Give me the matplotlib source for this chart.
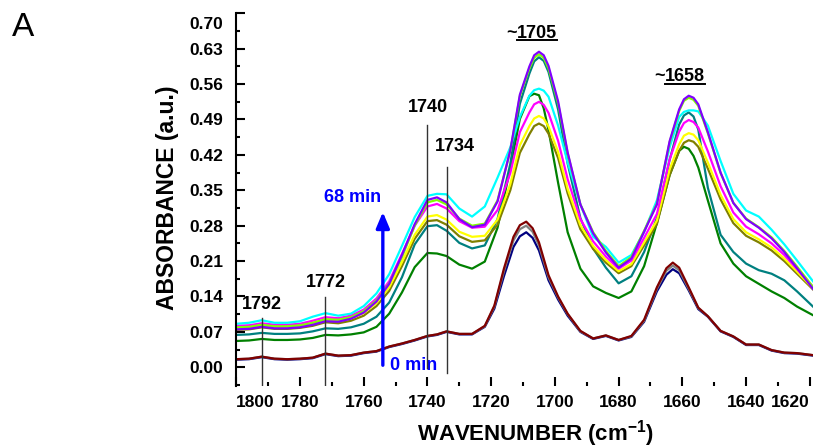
"""
FTIR 카르보닐 영역 흡광도 변화 (0 → 68 min)
"""

import matplotlib
matplotlib.use("Agg")
import matplotlib.pyplot as plt
from matplotlib.lines import Line2D
from matplotlib.ticker import FixedLocator, FuncFormatter

# ── 데이터 ─────────────────────────────────────────────────────────────
# 반응 진행 스펙트럼 (상단 그룹) 공통 파수
wn_hi = [1800, 1796, 1792, 1788, 1784, 1780, 1776, 1772, 1768, 1764, 1760, 1756,
         1752, 1748, 1744, 1740, 1737, 1734, 1730, 1726,
         1722, 1718, 1714, 1711, 1708, 1706.5, 1705, 1703.5, 1702, 1699, 1696, 1692, 1688, 1684, 1680,
         1676, 1672, 1668, 1664, 1661, 1659.5, 1658, 1656.5, 1655, 1652, 1648, 1644, 1640, 1636,
         1632, 1628, 1624, 1619]

abs_green = [0.052, 0.053, 0.056, 0.054, 0.054, 0.055, 0.058, 0.064, 0.063, 0.065, 0.069, 0.080,
             0.106, 0.148, 0.198, 0.226, 0.225, 0.220, 0.203, 0.195,
             0.209, 0.276, 0.394, 0.491, 0.536, 0.541, 0.538, 0.512, 0.469, 0.365, 0.267, 0.195, 0.160, 0.147, 0.137,
             0.150, 0.200, 0.285, 0.380, 0.428, 0.436, 0.432, 0.418, 0.395, 0.330, 0.245, 0.205, 0.180, 0.165,
             0.150, 0.137, 0.120, 0.103]
abs_teal = [0.064, 0.065, 0.068, 0.066, 0.066, 0.067, 0.071, 0.077, 0.076, 0.079, 0.086, 0.100,
            0.128, 0.178, 0.243, 0.279, 0.281, 0.270, 0.246, 0.235,
            0.241, 0.293, 0.402, 0.521, 0.581, 0.605, 0.613, 0.606, 0.584, 0.510, 0.403, 0.295, 0.235, 0.197, 0.166,
            0.180, 0.228, 0.295, 0.410, 0.480, 0.498, 0.504, 0.496, 0.470, 0.355, 0.262, 0.228, 0.205, 0.192,
            0.185, 0.172, 0.150, 0.120]
abs_olive = [0.074, 0.075, 0.079, 0.076, 0.076, 0.078, 0.082, 0.089, 0.087, 0.092, 0.102, 0.121,
             0.151, 0.200, 0.254, 0.289, 0.291, 0.282, 0.259, 0.248,
             0.251, 0.282, 0.350, 0.424, 0.461, 0.477, 0.482, 0.477, 0.462, 0.414, 0.344, 0.273, 0.234, 0.207, 0.186,
             0.200, 0.241, 0.283, 0.380, 0.428, 0.444, 0.449, 0.446, 0.436, 0.393, 0.332, 0.285, 0.260, 0.247,
             0.231, 0.210, 0.185, 0.154]
abs_yellow = [0.078, 0.079, 0.083, 0.080, 0.080, 0.082, 0.087, 0.094, 0.092, 0.097, 0.107, 0.127,
              0.158, 0.208, 0.262, 0.298, 0.301, 0.292, 0.268, 0.258,
              0.260, 0.292, 0.362, 0.439, 0.477, 0.492, 0.497, 0.492, 0.476, 0.426, 0.353, 0.281, 0.240, 0.212, 0.190,
              0.204, 0.247, 0.290, 0.391, 0.441, 0.458, 0.463, 0.460, 0.449, 0.405, 0.341, 0.293, 0.267, 0.253,
              0.237, 0.215, 0.189, 0.156]
abs_magenta = [0.082, 0.083, 0.087, 0.084, 0.084, 0.086, 0.092, 0.099, 0.097, 0.102, 0.114, 0.136,
               0.170, 0.224, 0.280, 0.318, 0.323, 0.314, 0.289, 0.276,
               0.278, 0.311, 0.384, 0.465, 0.504, 0.520, 0.525, 0.519, 0.503, 0.448, 0.372, 0.293, 0.249, 0.219, 0.195,
               0.211, 0.256, 0.303, 0.411, 0.466, 0.483, 0.489, 0.485, 0.474, 0.427, 0.358, 0.306, 0.278, 0.263,
               0.245, 0.222, 0.194, 0.159]
abs_cyan = [0.086, 0.088, 0.093, 0.088, 0.088, 0.091, 0.100, 0.107, 0.102, 0.106, 0.121, 0.146,
            0.184, 0.240, 0.297, 0.339, 0.343, 0.342, 0.314, 0.298,
            0.318, 0.375, 0.435, 0.495, 0.537, 0.548, 0.551, 0.547, 0.535, 0.478, 0.405, 0.322, 0.258, 0.238, 0.207,
            0.222, 0.268, 0.330, 0.435, 0.495, 0.505, 0.508, 0.508, 0.506, 0.478, 0.408, 0.343, 0.310, 0.298,
            0.272, 0.243, 0.211, 0.170]
abs_lime = [0.079, 0.080, 0.084, 0.081, 0.081, 0.083, 0.088, 0.095, 0.094, 0.099, 0.111, 0.132,
            0.166, 0.218, 0.280, 0.326, 0.331, 0.322, 0.294, 0.280,
            0.284, 0.330, 0.428, 0.536, 0.591, 0.612, 0.619, 0.612, 0.591, 0.522, 0.423, 0.322, 0.267, 0.230, 0.200,
            0.218, 0.270, 0.323, 0.445, 0.507, 0.527, 0.533, 0.529, 0.517, 0.463, 0.384, 0.325, 0.294, 0.277,
            0.257, 0.230, 0.199, 0.159]
abs_purple = [0.075, 0.076, 0.080, 0.077, 0.077, 0.079, 0.084, 0.091, 0.090, 0.096, 0.108, 0.130,
              0.165, 0.222, 0.283, 0.331, 0.336, 0.326, 0.293, 0.277,
              0.282, 0.328, 0.429, 0.539, 0.595, 0.617, 0.624, 0.617, 0.596, 0.526, 0.425, 0.322, 0.265, 0.227, 0.197,
              0.215, 0.268, 0.322, 0.447, 0.510, 0.530, 0.537, 0.533, 0.520, 0.465, 0.385, 0.325, 0.293, 0.276,
              0.255, 0.228, 0.196, 0.155]

# 초기 스펙트럼 (하단 그룹) 파수
wn_lo = [1800, 1796, 1792, 1788, 1784, 1780, 1776, 1772, 1768, 1764, 1760, 1756,
         1752, 1748, 1744, 1740, 1737, 1734, 1730, 1726,
         1722, 1719, 1716, 1713, 1711, 1709, 1707, 1705, 1702, 1699, 1696,
         1692, 1688, 1684, 1680, 1676, 1672, 1668,
         1665, 1663, 1661, 1658, 1655, 1652,
         1648, 1644, 1640, 1636, 1632, 1628, 1624, 1619]

abs_navy = [0.015, 0.016, 0.020, 0.016, 0.015, 0.016, 0.018, 0.026, 0.022, 0.023, 0.028, 0.031,
            0.040, 0.046, 0.053, 0.061, 0.064, 0.070, 0.065, 0.065,
            0.080, 0.116, 0.180, 0.238, 0.259, 0.267, 0.256, 0.231, 0.172, 0.134, 0.102,
            0.070, 0.056, 0.062, 0.053, 0.060, 0.090, 0.150,
            0.183, 0.194, 0.186, 0.152, 0.115, 0.100,
            0.071, 0.060, 0.044, 0.044, 0.033, 0.028, 0.027, 0.023]
abs_gray = [0.016, 0.017, 0.021, 0.017, 0.016, 0.017, 0.019, 0.027, 0.023, 0.024, 0.029, 0.032,
            0.041, 0.047, 0.054, 0.062, 0.065, 0.071, 0.066, 0.066,
            0.081, 0.120, 0.190, 0.251, 0.273, 0.280, 0.268, 0.241, 0.178, 0.138, 0.105,
            0.071, 0.057, 0.063, 0.054, 0.061, 0.092, 0.155,
            0.191, 0.201, 0.192, 0.155, 0.117, 0.101,
            0.072, 0.061, 0.045, 0.045, 0.034, 0.029, 0.028, 0.024]
abs_maroon = [0.016, 0.017, 0.021, 0.017, 0.016, 0.017, 0.019, 0.027, 0.023, 0.024, 0.029, 0.032,
              0.041, 0.047, 0.054, 0.062, 0.065, 0.071, 0.066, 0.066,
              0.082, 0.122, 0.195, 0.258, 0.281, 0.288, 0.275, 0.247, 0.182, 0.140, 0.106,
              0.072, 0.057, 0.063, 0.054, 0.062, 0.094, 0.158,
              0.196, 0.207, 0.197, 0.158, 0.118, 0.101,
              0.072, 0.061, 0.045, 0.045, 0.034, 0.029, 0.028, 0.024]

# 표시할 밴드 위치
marker_bands = [1792, 1772, 1740, 1734]
x_ticks = [1800, 1780, 1760, 1740, 1720, 1700, 1680, 1660, 1640, 1620]
y_ticks = [round(0.07 * i, 2) for i in range(11)]


def main():
    plt.rcParams["font.family"] = ["Liberation Sans", "DejaVu Sans"]
    plt.rcParams["font.weight"] = "bold"
    plt.rcParams["mathtext.fontset"] = "custom"
    plt.rcParams["mathtext.bf"] = "Liberation Sans:bold"

    fig = plt.figure(figsize=(8.13, 4.48), dpi=100)
    ax = fig.add_axes([0.2906, 0.1373, 0.7094, 0.833])
    ax.set_xlim(1800, 1619)
    ax.set_ylim(-0.038, 0.70)

    lw = 1.6
    ax.plot(wn_lo, abs_navy, color="#000080", lw=lw)
    ax.plot(wn_lo, abs_gray, color="#808080", lw=lw)
    ax.plot(wn_lo, abs_maroon, color="#800000", lw=lw)

    for ys, c in [(abs_green, "#008000"), (abs_teal, "#008080"), (abs_olive, "#808000"),
                  (abs_yellow, "#FFFF00"), (abs_magenta, "#FF00FF"), (abs_cyan, "#00FFFF"),
                  (abs_lime, "#80FF00"), (abs_purple, "#8000FF")]:
        ax.plot(wn_hi, ys, color=c, lw=lw)

    # 밴드 표시선
    spans = {1792: (-0.038, 0.0975), 1772: (-0.038, 0.139),
             1740: (-0.001, 0.479), 1734: (-0.011, 0.396)}
    for b in marker_bands:
        y0, y1 = spans[b]
        ax.plot([b, b], [y0, y1], color="#333333", lw=1.0, zorder=5)

    fs = 13
    ax.text(1792, 0.125, "1792", ha="center", va="center", fontsize=fs)
    ax.text(1772, 0.167, "1772", ha="center", va="center", fontsize=fs)
    ax.text(1740, 0.513, "1740", ha="center", va="center", fontsize=fs)
    ax.text(1731.5, 0.436, "1734", ha="center", va="center", fontsize=fs)

    # 시간 경과 화살표
    ax.annotate("", xy=(1754, 0.307), xytext=(1754, 0.004),
                arrowprops=dict(arrowstyle="-|>,head_length=0.95,head_width=0.4",
                                color="#0000FF", lw=2.4, shrinkA=0, shrinkB=0))
    ax.text(1763.4, 0.335, "68 min", color="#0000FF", ha="center", va="center", fontsize=fs)
    ax.text(1751.8, 0.003, "0 min", color="#0000FF", ha="left", va="center", fontsize=fs)

    ax.spines["top"].set_visible(False)
    ax.spines["right"].set_visible(False)
    ax.spines["bottom"].set_visible(False)
    ax.spines["left"].set_linewidth(1.5)

    ax.set_xticks(x_ticks, labels=[str(v) for v in x_ticks])
    ax.xaxis.set_minor_locator(FixedLocator([v - 10 for v in x_ticks[:-1]]))
    xl = ax.get_xticklabels()
    xl[0].set_ha("left")
    xl[-1].set_ha("right")

    ax.yaxis.set_major_locator(FixedLocator(y_ticks))
    ax.yaxis.set_major_formatter(FuncFormatter(lambda v, p: "" if v > 0.69 else f"{v:.2f}"))
    ax.yaxis.set_minor_locator(FixedLocator([v + 0.035 for v in [-0.07] + y_ticks[:-1]]))
    ax.annotate("0.70", xy=(0, 0.70), xycoords=("axes fraction", "data"),
                xytext=(-9.5, -8), textcoords="offset points",
                ha="right", va="center", fontsize=12.5)

    ax.tick_params(axis="both", which="major", direction="in", length=6.5, width=1.5, labelsize=12.5)
    ax.tick_params(axis="both", which="minor", direction="in", length=3.2, width=1.5)
    ax.tick_params(axis="y", pad=9.5)
    ax.tick_params(axis="x", pad=6)

    ax.set_xlabel("WAVENUMBER (cm$^{\\mathbf{-1}}$)", fontsize=16, fontweight="bold")
    ax.xaxis.set_label_coords(0.518, -0.086)
    ax.set_ylabel("ABSORBANCE (a.u.)", fontsize=16.5, fontweight="bold")
    ax.yaxis.set_label_coords(-0.10, 0.506)

    # 밑줄 친 주요 피크 (축 범위 확정 후 위치 계산)
    for x0, y0, num in [(1711.9, 0.652, "1705"), (1665.5, 0.566, "1658")]:
        ax.text(x0, y0, "~", ha="right", va="baseline", fontsize=fs)
        t = ax.text(x0, y0, num, ha="left", va="baseline", fontsize=fs)
        fig.canvas.draw()
        bb = t.get_window_extent(fig.canvas.get_renderer())
        _, ybase = ax.transData.transform((x0, y0))
        inv = fig.transFigure.inverted()
        (fx0, fy), (fx1, _) = inv.transform([(bb.x0, ybase - 2.5), (bb.x1, ybase - 2.5)])
        fig.add_artist(Line2D([fx0, fx1], [fy, fy], color="black", lw=1.4))

    fig.text(0.028, 0.9375, "A", fontsize=24, fontweight="normal", ha="center", va="center")

    fig.savefig("out.png", dpi=100)


if __name__ == "__main__":
    main()
